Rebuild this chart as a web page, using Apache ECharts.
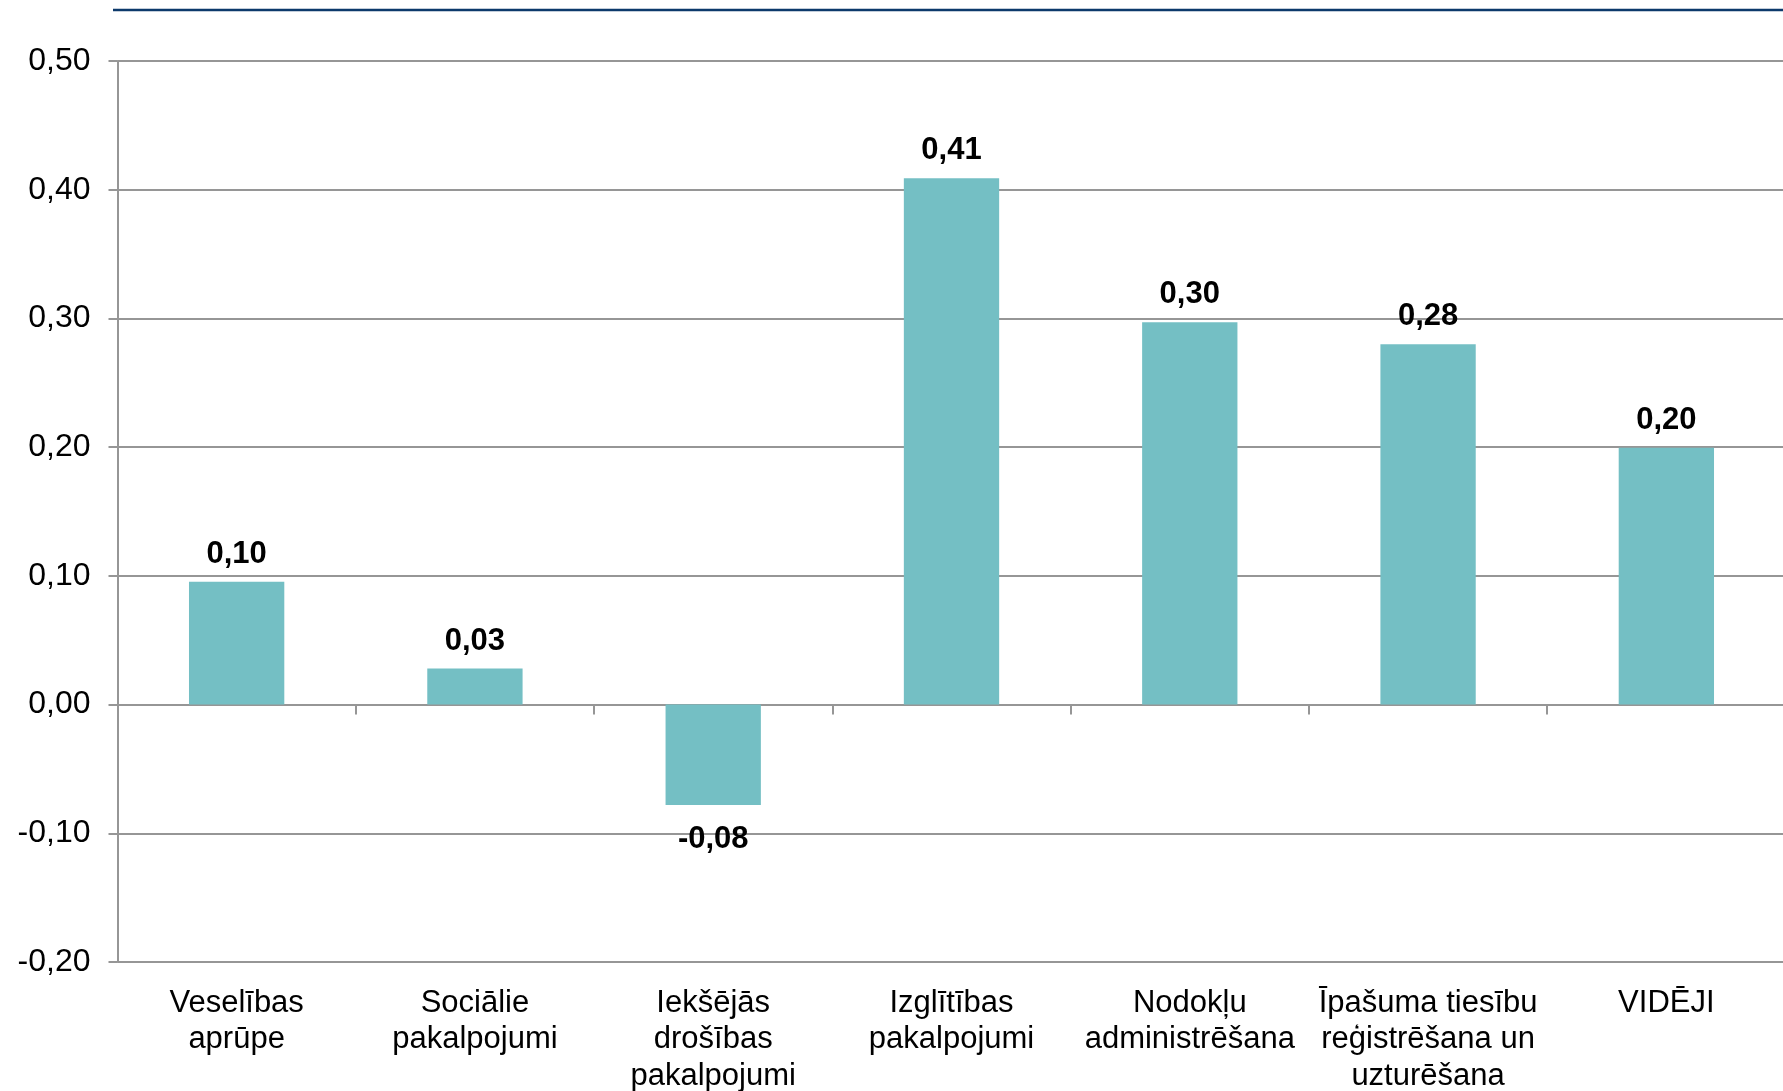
<!DOCTYPE html>
<html>
<head>
<meta charset="utf-8">
<script src="https://cdn.jsdelivr.net/npm/echarts@6/dist/echarts.min.js"></script>
<style>
html,body{margin:0;padding:0;background:#fff;}
#chart{width:1783px;height:1091px;}
</style>
</head>
<body>
<div id="chart"></div>
<script>
const categories = [
  "Veselības\naprūpe",
  "Sociālie\npakalpojumi",
  "Iekšējās\ndrošības\npakalpojumi",
  "Izglītības\npakalpojumi",
  "Nodokļu\nadministrēšana",
  "Īpašuma tiesību\nreģistrēšana un\nuzturēšana",
  "VIDĒJI"
];
const values = [0.0955, 0.028, -0.078, 0.409, 0.297, 0.280, 0.1995];
const yMin = -0.2, yMax = 0.5, yStep = 0.1;

const fmt = v => v.toFixed(2).replace('.', ',').replace('-0,00', '0,00');
const FONT = "'Liberation Sans', Arial, sans-serif";
const chart = echarts.init(document.getElementById('chart'));
chart.setOption({
  animation: false,
  backgroundColor: '#ffffff',
  graphic: [{
    type: 'line',
    shape: {x1: 113, y1: 10, x2: 1783, y2: 10},
    style: {stroke: '#0d3a6b', lineWidth: 2.5}
  }],
  grid: {left: 117.5, right: -2.5, top: 61, bottom: 129, containLabel: false, outerBoundsMode: 'none'},
  xAxis: [{
    type: 'category',
    data: categories,
    position: 'bottom',
    axisLine: {show: false, onZero: false},
    axisTick: {show: false},
    axisLabel: {
      interval: 0, margin: 23, color: '#000', fontFamily: FONT,
      fontSize: 31, lineHeight: 36.5
    }
  }, {
    type: 'category',
    data: categories,
    position: 'bottom',
    axisLine: {show: true, onZero: true, lineStyle: {color: '#969696', width: 2}},
    axisTick: {show: true, length: 10, lineStyle: {color: '#969696', width: 2}},
    axisLabel: {show: false}
  }],
  yAxis: {
    type: 'value',
    min: yMin, max: yMax, interval: yStep,
    axisLine: {show: true, lineStyle: {color: '#969696', width: 2}},
    axisTick: {show: true, length: 9, lineStyle: {color: '#969696', width: 2}},
    splitLine: {show: true, lineStyle: {color: '#969696', width: 2}},
    axisLabel: {
      margin: 27, color: '#000', fontFamily: FONT, fontSize: 32,
      formatter: v => fmt(v)
    }
  },
  series: [{
    type: 'bar',
    xAxisIndex: 0,
    barWidth: '40%',
    itemStyle: {color: '#74BFC4'},
    label: {
      show: true, color: '#000', fontFamily: FONT, fontSize: 31,
      fontWeight: 'bold', formatter: p => fmt(p.value)
    },
    data: values.map(v => ({
      value: v,
      label: v < 0 ? {position: 'bottom', distance: 19} : {position: 'top', distance: 12}
    }))
  }]
});
</script>
</body>
</html>
